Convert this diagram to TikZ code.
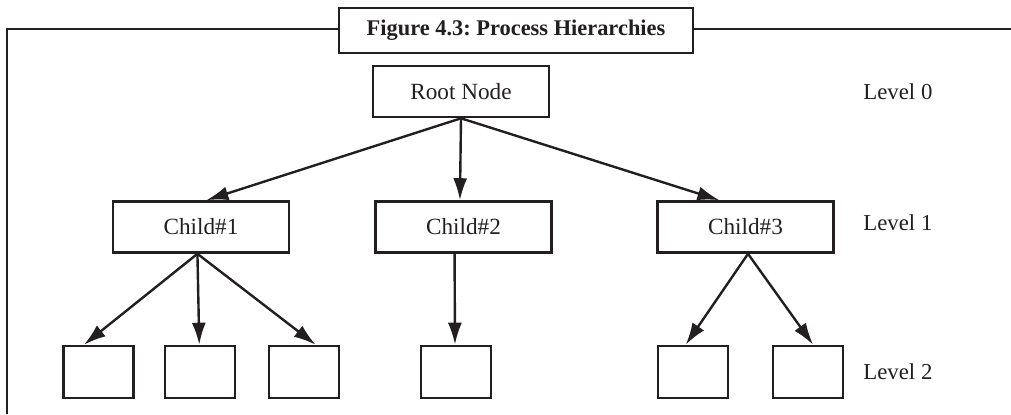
\documentclass[tikz,border=0pt]{standalone}
\usepackage{fontspec}
\setmainfont{Liberation Serif}
\usetikzlibrary{arrows.meta,calc}
\definecolor{ink}{HTML}{231F20}
\frenchspacing
\tikzset{
  boxnode/.style={draw=ink, line width=1.3pt, inner sep=0pt, anchor=center,
    font=\fontsize{11.6}{13}\selectfont, text=ink},
  bigbox/.style={boxnode, minimum width=88pt, minimum height=25.5pt},
  leafbox/.style={boxnode, minimum width=35pt, minimum height=26pt},
  titlebox/.style={draw=ink, line width=1.3pt, inner sep=0pt, minimum width=177pt,
    minimum height=22.5pt, font=\bfseries\fontsize{11.2}{13}\selectfont, text=ink, fill=white},
  levellabel/.style={anchor=west, inner sep=0pt, font=\fontsize{11.4}{13}\selectfont, text=ink},
  link/.style={draw=ink, line width=1.2pt, -{Latex[length=11pt,width=7pt]}},
  framestyle/.style={draw=ink, line width=1.1pt}
}
\begin{document}
\begin{tikzpicture}[x=0.5pt,y=-0.5pt]
\useasboundingbox (0,0) rectangle (1011,414);
% frame
\coordinate (fb) at (7,414);
\coordinate (ftl) at (7,29);
\coordinate (fr) at (1011,29);
\node[titlebox] (title) at (516,30.5) {Figure 4.3: Process Hierarchies};
\draw[framestyle] (fb) -- (ftl) -- (title.west |- ftl);
\draw[framestyle] (title.east |- fr) -- (fr);
% level 0
\node[bigbox] (root) at (461,91.5) {Root Node};
% level 1
\node[bigbox] (c1) at (201,227) {Child\#1};
\node[bigbox] (c2) at (463.5,227) {Child\#2};
\node[bigbox] (c3) at (745.5,227) {Child\#3};
% level 2
\node[leafbox] (b1) at (98.5,372) {};
\node[leafbox] (b2) at (200,372) {};
\node[leafbox] (b3) at (304,372) {};
\node[leafbox] (b4) at (456,372) {};
\node[leafbox] (b5) at (693,372) {};
\node[leafbox] (b6) at (808,372) {};
% level labels
\node[levellabel] (l0) at (863,92) {Level 0};
\node[levellabel] (l1) at (863,223) {Level 1};
\node[levellabel] (l2) at (863,372) {Level 2};
% connectors
\draw[link] (root.south) -- ($(c1.north west)!0.53!(c1.north east)$);
\draw[link] (root.south) -- ($(c2.north west)!0.48!(c2.north east)$);
\draw[link] (root.south) -- ($(c3.north west)!0.354!(c3.north east)$);
\draw[link] ($(c1.south west)!0.48!(c1.south east)$) -- ($(b1.north west)!0.3!(b1.north east)$);
\draw[link] ($(c1.south west)!0.48!(c1.south east)$) -- ($(b2.north west)!0.49!(b2.north east)$);
\draw[link] ($(c1.south west)!0.48!(c1.south east)$) -- ($(b3.north west)!0.66!(b3.north east)$);
\draw[link] ($(c2.south west)!0.45!(c2.south east)$) -- ($(b4.north west)!0.486!(b4.north east)$);
\draw[link] ($(c3.south west)!0.514!(c3.south east)$) -- ($(b5.north west)!0.4!(b5.north east)$);
\draw[link] ($(c3.south west)!0.514!(c3.south east)$) -- ($(b6.north west)!0.57!(b6.north east)$);
\end{tikzpicture}
\end{document}
